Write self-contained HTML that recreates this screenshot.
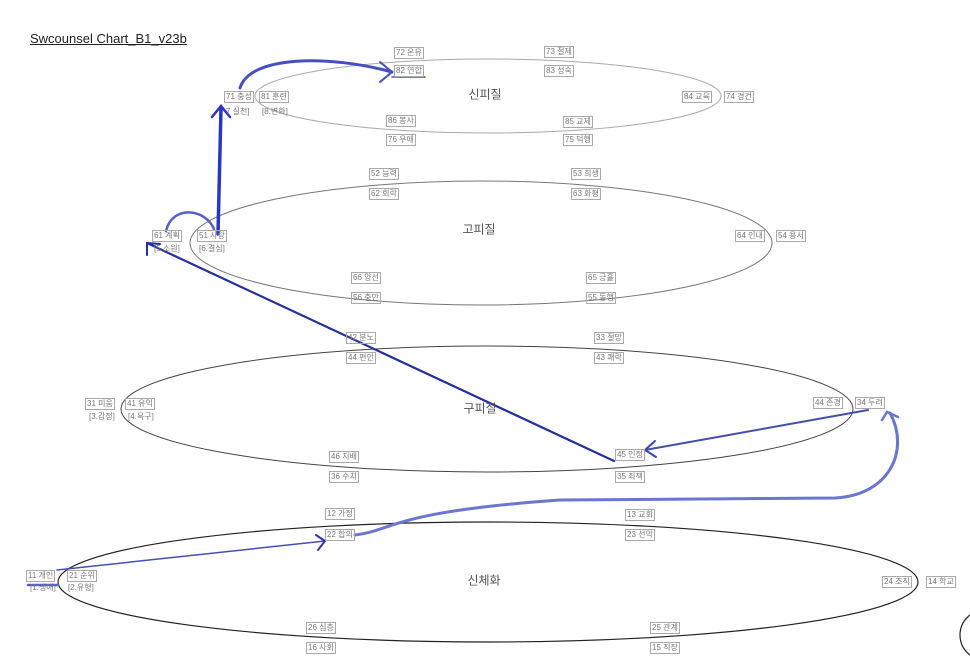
<!DOCTYPE html>
<html><head><meta charset="utf-8"><style>
body{margin:0;width:970px;height:671px;background:#fff;position:relative;overflow:hidden;font-family:"Liberation Sans","Noto Sans CJK KR",sans-serif}
.l{position:absolute;font-size:8px;color:#777;border:1px solid #aaa;padding:0 1px;line-height:10px;white-space:nowrap;transform:translateY(-6px)}
.n{position:absolute;font-size:8px;color:#777;line-height:10px;white-space:nowrap;transform:translateY(-6px)}
.t{position:absolute;font-size:12px;color:#555;white-space:nowrap;transform:translate(-50%,-50%)}
svg{position:absolute;left:0;top:0}
</style></head><body>
<div style="position:absolute;left:30px;top:31px;font-size:13px;color:#222;text-decoration:underline">Swcounsel Chart_B1_v23b</div>
<svg width="970" height="671">
<ellipse cx="488" cy="96" rx="233" ry="37" fill="none" stroke="#aaa" stroke-width="1"/>
<ellipse cx="481" cy="243" rx="291" ry="62" fill="none" stroke="#777" stroke-width="1"/>
<ellipse cx="487" cy="409" rx="366" ry="63" fill="none" stroke="#444" stroke-width="1"/>
<ellipse cx="488" cy="582" rx="430" ry="60" fill="none" stroke="#222" stroke-width="1.2"/>
<circle cx="985" cy="635" r="25" fill="none" stroke="#222" stroke-width="1.2"/>
<g fill="none" stroke-linecap="round">
<path d="M240,88 C250,55 330,55 392,72" stroke="#4450c0" stroke-width="3"/>
<path d="M380,62 L392,72 L380,82" stroke="#4450c0" stroke-width="2"/>
<path d="M218,234 L221,108" stroke="#2a35c8" stroke-width="3.5"/>
<path d="M212,117 L221,106 L230,117" stroke="#2a35c8" stroke-width="2.5"/>
<path d="M166,231 C172,205 205,208 214,229" stroke="#5560c8" stroke-width="2.5"/>
<path d="M614,461 L147,243" stroke="#25309a" stroke-width="2.2"/>
<path d="M147,255 L147,243 L160,244" stroke="#25309a" stroke-width="2"/>
<path d="M868,410 L645,450" stroke="#4450a8" stroke-width="2"/>
<path d="M655,441 L645,450 L656,457" stroke="#3a46b0" stroke-width="2"/>
<path d="M355,535 C395,530 390,512 560,500 L835,498 C890,495 910,450 890,413" stroke="#6a76d0" stroke-width="3"/>
<path d="M882,420 L887,412 L898,417" stroke="#6a76d0" stroke-width="2.5"/>
<path d="M57,570 L325,541" stroke="#4450b0" stroke-width="1.5"/>
<path d="M316,535 L325,541 L318,550" stroke="#2a35b0" stroke-width="2"/>
<path d="M28,585 L58,585" stroke="#5560c8" stroke-width="2.5"/>
<path d="M392,77 L425,77" stroke="#4450a8" stroke-width="1.5"/>
</g>
</svg>
<div class="t" style="left:485px;top:94px">신피질</div>
<div class="t" style="left:479px;top:229px">고피질</div>
<div class="t" style="left:480px;top:408px">구피질</div>
<div class="t" style="left:484px;top:580px">신체화</div>

<div class="l" style="left:394px;top:53px">72 온유</div>
<div class="l" style="left:394px;top:71px">82 연합</div>
<div class="l" style="left:544px;top:52px">73 절제</div>
<div class="l" style="left:544px;top:71px">83 성숙</div>
<div class="l" style="left:224px;top:97px">71 충성</div>
<div class="l" style="left:259px;top:97px">81 훈련</div>
<div class="n" style="left:226px;top:113px">7 실천]</div>
<div class="n" style="left:262px;top:113px">[8.변화]</div>
<div class="l" style="left:386px;top:121px">86 봉사</div>
<div class="l" style="left:386px;top:140px">76 우애</div>
<div class="l" style="left:563px;top:122px">85 교제</div>
<div class="l" style="left:563px;top:140px">75 덕행</div>
<div class="l" style="left:682px;top:97px">84 교육</div>
<div class="l" style="left:724px;top:97px">74 경건</div>
<div class="l" style="left:369px;top:174px">52 능력</div>
<div class="l" style="left:369px;top:194px">62 회락</div>
<div class="l" style="left:571px;top:174px">53 희생</div>
<div class="l" style="left:571px;top:194px">63 화평</div>
<div class="l" style="left:152px;top:236px">61 계획</div>
<div class="l" style="left:197px;top:236px">51 사랑</div>
<div class="n" style="left:154px;top:250px">[5.소원]</div>
<div class="n" style="left:199px;top:250px">[6.결심]</div>
<div class="l" style="left:735px;top:236px">64 인내</div>
<div class="l" style="left:776px;top:236px">54 용서</div>
<div class="l" style="left:351px;top:278px">66 양선</div>
<div class="l" style="left:351px;top:298px">56 충만</div>
<div class="l" style="left:586px;top:278px">65 긍휼</div>
<div class="l" style="left:586px;top:298px">55 동행</div>
<div class="l" style="left:346px;top:338px">42 분노</div>
<div class="l" style="left:346px;top:358px">44 편안</div>
<div class="l" style="left:594px;top:338px">33 절망</div>
<div class="l" style="left:594px;top:358px">43 쾌락</div>
<div class="l" style="left:85px;top:404px">31 미움</div>
<div class="l" style="left:125px;top:404px">41 유익</div>
<div class="n" style="left:89px;top:418px">[3.감정]</div>
<div class="n" style="left:128px;top:418px">[4.욕구]</div>
<div class="l" style="left:813px;top:403px">44 존경</div>
<div class="l" style="left:855px;top:403px">34 두려</div>
<div class="l" style="left:329px;top:457px">46 지배</div>
<div class="l" style="left:329px;top:477px">36 수치</div>
<div class="l" style="left:615px;top:455px">45 인정</div>
<div class="l" style="left:615px;top:477px">35 죄책</div>
<div class="l" style="left:325px;top:514px">12 가정</div>
<div class="l" style="left:325px;top:535px">22 합의</div>
<div class="l" style="left:625px;top:515px">13 교회</div>
<div class="l" style="left:625px;top:535px">23 선악</div>
<div class="l" style="left:26px;top:576px">11 개인</div>
<div class="l" style="left:67px;top:576px">21 순위</div>
<div class="n" style="left:30px;top:589px">[1.생애]</div>
<div class="n" style="left:68px;top:589px">[2.유형]</div>
<div class="l" style="left:882px;top:582px">24 조직</div>
<div class="l" style="left:926px;top:582px">14 학교</div>
<div class="l" style="left:306px;top:628px">26 심층</div>
<div class="l" style="left:306px;top:648px">16 사회</div>
<div class="l" style="left:650px;top:628px">25 관계</div>
<div class="l" style="left:650px;top:648px">15 직장</div>
</body></html>
